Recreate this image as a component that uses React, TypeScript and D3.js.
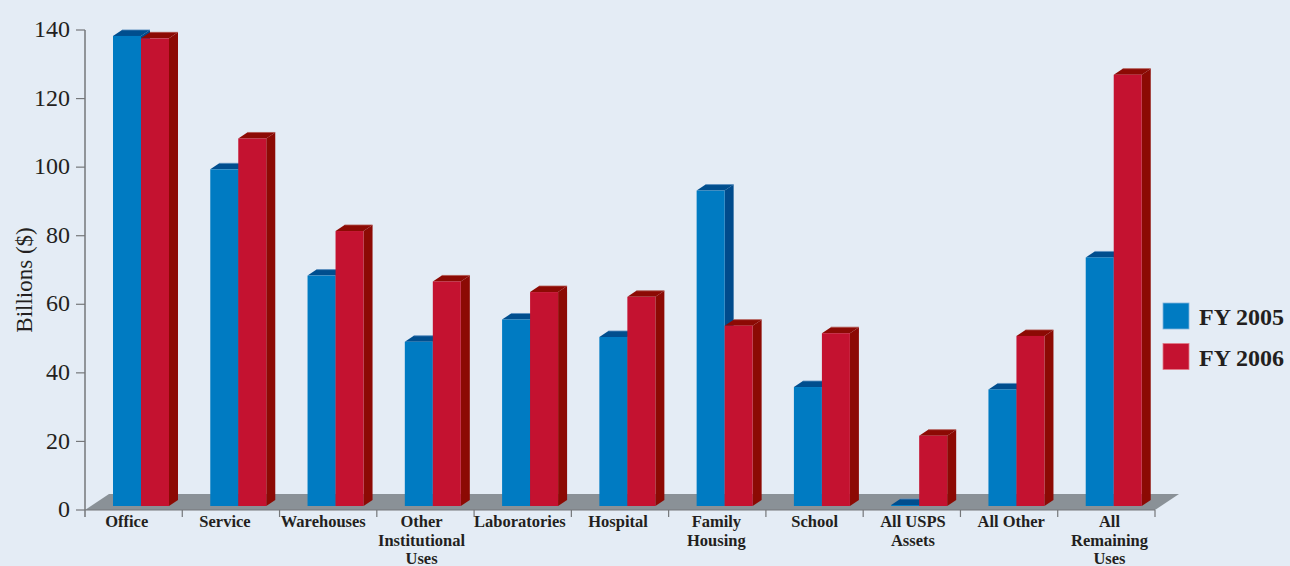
import React, { useEffect } from "react";
import * as d3 from "d3";

const categories = [
  "Office",
  "Service",
  "Warehouses",
  "Other\nInstitutional\nUses",
  "Laboratories",
  "Hospital",
  "Family\nHousing",
  "School",
  "All USPS\nAssets",
  "All Other",
  "All\nRemaining\nUses",
];
const seriesNames = ["FY 2005", "FY 2006"];
const fy2005 = [137.1, 98.2, 67.2, 47.9, 54.4, 49.3, 92.0, 34.7, 0.3, 34.0, 72.5];
const fy2006 = [136.4, 107.2, 80.2, 65.5, 62.4, 61.0, 52.6, 50.4, 20.5, 49.6, 125.8];
const yTicks = [0, 20, 40, 60, 80, 100, 120, 140];

const W = 1290;
const H = 566;
const BG = "#E4ECF5";
const AXIS = "#75777a";
const TEXT = "#231f20";
const FONT = "'Liberation Serif', 'DejaVu Serif', serif";

const colors = [
  { front: "#007BC2", top: "#004E8E", side: "#004B8C" },
  { front: "#C41230", top: "#8C0A04", side: "#8C0A04" },
];

export default function App() {
  useEffect(() => {
    document.body.style.margin = "0";
    document.body.style.background = BG;
  }, []);

  const x = d3.scaleBand<string>().domain(categories).range([85, 1155]).paddingInner(0).paddingOuter(0);
  const sub = d3.scaleBand<string>().domain(seriesNames).range([28, 84]).padding(0);
  const labelX = d3.scalePoint<string>().domain(categories).range([126.7, 1109.5]);
  const y = d3.scaleLinear().domain([0, 140]).range([510, 30]);

  const depthX = 9;
  const depthY = 6;
  const baseShift = 4;
  const floorDX = 24;
  const floorDY = 16;
  const y0 = y(0);
  const xStart = x.range()[0];
  const xEnd = x.range()[1];

  const data = [fy2005, fy2006];

  const floorPath = d3.path();
  floorPath.moveTo(xStart, y0);
  floorPath.lineTo(xStart + floorDX, y0 - floorDY);
  floorPath.lineTo(xEnd + floorDX, y0 - floorDY);
  floorPath.lineTo(xEnd, y0);
  floorPath.closePath();

  const bars: React.ReactNode[] = [];
  categories.forEach((c, ci) => {
    seriesNames.forEach((s, si) => {
      const v = data[si][ci];
      const bx = (x(c) as number) + (sub(s) as number);
      const bw = sub.bandwidth();
      const top = y(v) - baseShift;
      const base = y0 - baseShift;
      const col = colors[si];
      const topP = d3.path();
      topP.moveTo(bx, top);
      topP.lineTo(bx + depthX, top - depthY);
      topP.lineTo(bx + bw + depthX, top - depthY);
      topP.lineTo(bx + bw, top);
      topP.closePath();
      const sideP = d3.path();
      sideP.moveTo(bx + bw, top);
      sideP.lineTo(bx + bw + depthX, top - depthY);
      sideP.lineTo(bx + bw + depthX, base - depthY);
      sideP.lineTo(bx + bw, base);
      sideP.closePath();
      bars.push(
        <g key={`${ci}-${si}`}>
          <path d={sideP.toString()} fill={col.side} />
          <path d={topP.toString()} fill={col.top} />
          <line x1={bx + depthX} y1={top - depthY} x2={bx + bw + depthX} y2={top - depthY} stroke={si === 0 ? "#5a8fc0" : "#b0504a"} strokeWidth={0.8} />
          <rect x={bx} y={top} width={bw} height={Math.max(0, base - top)} fill={col.front} />
        </g>
      );
    });
  });

  return (
    <svg width={W} height={H} style={{ display: "block", background: BG }} fontFamily={FONT}>
      <rect x={0} y={0} width={W} height={H} fill={BG} />
      <path d={floorPath.toString()} fill="#8A9197" />
      {bars}
      {/* y axis */}
      <line x1={xStart} y1={y(140)} x2={xStart} y2={y0 + 7} stroke={AXIS} strokeWidth={1.5} />
      {yTicks.map((t) => (
        <g key={t}>
          <line x1={xStart - 9} x2={xStart} y1={y(t)} y2={y(t)} stroke={AXIS} strokeWidth={1.2} />
          <text x={70} y={y(t)} dy="0.3em" textAnchor="end" fontSize={24} fill={TEXT}>
            {t}
          </text>
        </g>
      ))}
      <text transform={`translate(32,280) rotate(-90)`} textAnchor="middle" fontSize={23} fill={TEXT}>
        Billions ($)
      </text>
      {/* x axis */}
      <line x1={xStart} x2={xEnd} y1={y0} y2={y0} stroke={AXIS} strokeWidth={1.2} />
      {categories.map((c) => (
        <line key={`t-${c}`} x1={(x(c) as number) + x.bandwidth()} x2={(x(c) as number) + x.bandwidth()} y1={y0} y2={y0 + 7} stroke={AXIS} strokeWidth={1.2} />
      ))}
      {categories.map((c) => (
        <text key={`l-${c}`} x={labelX(c)} y={527} textAnchor="middle" fontSize={16.5} fontWeight="bold" fill={TEXT}>
          {c.split("\n").map((line, i) => (
            <tspan key={i} x={labelX(c)} dy={i === 0 ? 0 : 18.7}>
              {line}
            </tspan>
          ))}
        </text>
      ))}
      {/* legend */}
      {seriesNames.map((s, i) => (
        <g key={s} transform={`translate(1163,${303 + i * 40.5})`}>
          <rect x={0} y={0} width={26} height={26} fill={colors[i].front} stroke={i === 0 ? "#7fb3dc" : "#e07a88"} strokeWidth={0.8} />
          <text x={36} y={22} fontSize={24} fontWeight="bold" fill={TEXT}>
            {s}
          </text>
        </g>
      ))}
    </svg>
  );
}
